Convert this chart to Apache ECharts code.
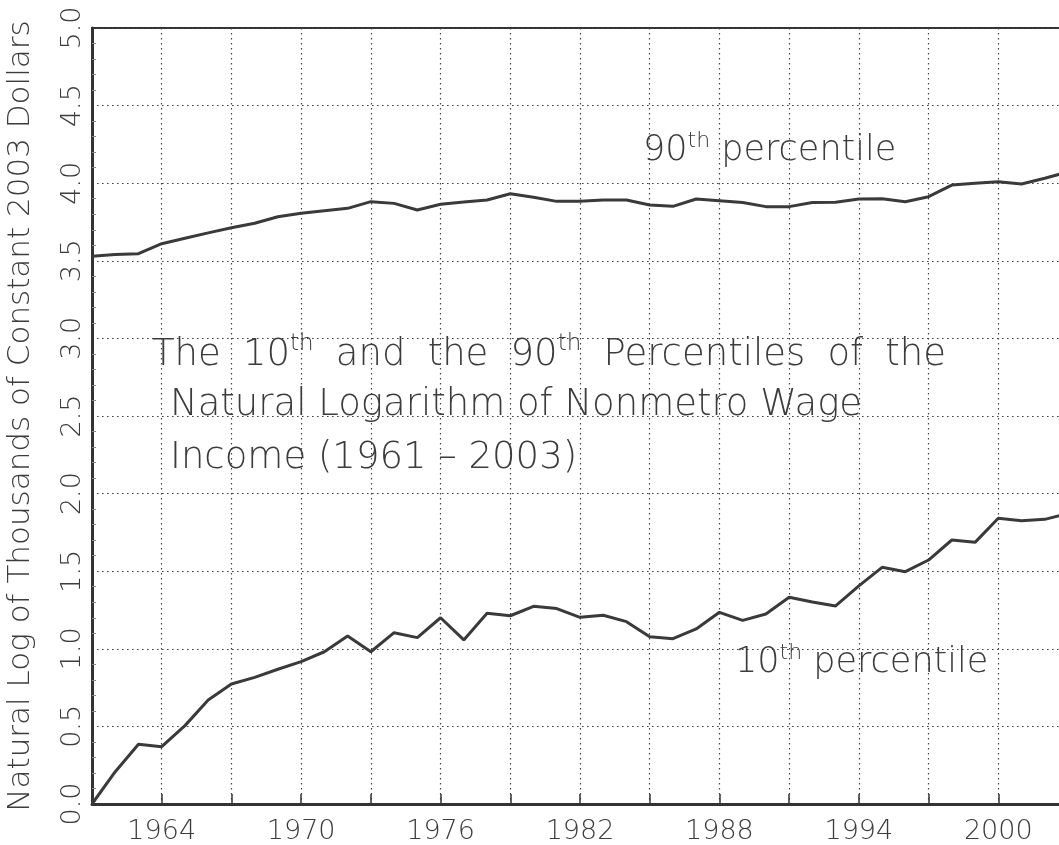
<!DOCTYPE html>
<html>
<head>
<meta charset="utf-8">
<script src="https://cdn.jsdelivr.net/npm/echarts@6/dist/echarts.min.js"></script>
<style>
html,body{margin:0;padding:0;background:#fff;}
#chart{width:1059px;height:845px;}
</style>
</head>
<body>
<div id="chart"></div>
<script>
// Years 1961..2003
const years = [];
for (let y = 1961; y <= 2003; y++) years.push(String(y));

const p90 = [3.53, 3.54, 3.546, 3.61, 3.645, 3.68, 3.713, 3.742, 3.784, 3.806,
  3.823, 3.838, 3.881, 3.870, 3.827, 3.864, 3.879, 3.892, 3.932, 3.909,
  3.883, 3.883, 3.892, 3.892, 3.860, 3.851, 3.898, 3.887, 3.875, 3.849,
  3.849, 3.875, 3.877, 3.898, 3.900, 3.881, 3.913, 3.988, 3.999, 4.010,
  3.995, 4.032, 4.073];

const p10 = [0.0, 0.208, 0.385, 0.369, 0.505, 0.670, 0.773, 0.816, 0.868, 0.917,
  0.981, 1.082, 0.981, 1.104, 1.072, 1.200, 1.057, 1.229, 1.213, 1.274,
  1.259, 1.203, 1.216, 1.175, 1.078, 1.065, 1.128, 1.235, 1.183, 1.224,
  1.332, 1.302, 1.276, 1.405, 1.525, 1.497, 1.572, 1.701, 1.686, 1.841,
  1.825, 1.834, 1.872];

const xTickLabels = ['1964', '1970', '1976', '1982', '1988', '1994', '2000'];
const yTickLabels = ['0.0', '0.5', '1.0', '1.5', '2.0', '2.5', '3.0', '3.5', '4.0', '4.5', '5.0'];

const FONT = 'DejaVu Sans';
const TXT = '#3c3c3c';
const SP = '\u2002\u200A';

const chart = echarts.init(document.getElementById('chart'), null, {renderer: 'canvas'});

const gridDot = {show: true, lineStyle: {color: '#444', width: 1.2, type: [1.6, 3.4]}};

function supRich(size, supSize, raise) {
  return {
    a: {fontFamily: FONT, fontWeight: 200, fontSize: size, fill: TXT},
    s: {fontFamily: FONT, fontWeight: 200, fontSize: supSize, fill: TXT, padding: [0, 0, raise, 0]}
  };
}

const option = {
  backgroundColor: '#ffffff',
  animation: false,
  grid: {left: 92, top: 28, width: 976, bottom: 41, outerBoundsMode: 'none', containLabel: false,
    show: true, borderColor: '#333', borderWidth: 2},
  xAxis: {
    type: 'category',
    data: years,
    boundaryGap: false,
    axisLine: {show: true, lineStyle: {color: '#333', width: 3}},
    axisTick: {show: true, inside: true, length: 10, lineStyle: {color: '#333', width: 1.5},
      interval: function (i) { return i % 3 === 0; }},
    axisLabel: {
      interval: function (i, v) { return xTickLabels.indexOf(v) >= 0; },
      formatter: function (v) { return xTickLabels.indexOf(v) >= 0 ? v : ''; },
      fontFamily: FONT, fontWeight: 200, fontSize: 27, color: TXT, margin: 14
    },
    splitLine: Object.assign({interval: function (i) { return i % 3 === 0 && i > 0; }}, gridDot)
  },
  yAxis: {
    type: 'value',
    min: 0, max: 5, interval: 0.5,
    name: 'Natural Log of Thousands of Constant 2003 Dollars',
    nameLocation: 'middle',
    nameRotate: 90,
    nameGap: 56,
    nameTextStyle: {fontFamily: FONT, fontWeight: 200, fontSize: 31, color: TXT},
    axisLine: {show: true, lineStyle: {color: '#333', width: 3}},
    axisTick: {show: false, inside: true},
    minorTick: {show: true, splitNumber: 5, length: 4, lineStyle: {color: '#888', width: 1}},
    axisLabel: {
      rotate: 90,
      formatter: function (v) { return yTickLabels[Math.round(v * 2)]; },
      fontFamily: FONT, fontWeight: 200, fontSize: 27, color: TXT, margin: 6
    },
    splitLine: gridDot
  },
  series: [
    {name: '90th percentile', type: 'line', data: p90, showSymbol: false, symbol: 'none',
      lineStyle: {color: '#3a3a3a', width: 3}},
    {name: '10th percentile', type: 'line', data: p10, showSymbol: false, symbol: 'none',
      lineStyle: {color: '#3a3a3a', width: 3}}
  ],
  graphic: [
    {type: 'text', left: 152, top: 333, z: 100,
      style: {text: '{a|The' + SP + '10}{s|th}{a|' + SP + 'and' + SP + 'the' + SP + '90}{s|th}{a|' + SP + 'Percentiles' + SP + 'of' + SP + 'the}',
        rich: supRich(37, 23, 22)}},
    {type: 'text', left: 170, top: 387, z: 100,
      style: {text: 'Natural Logarithm of Nonmetro Wage', fontFamily: FONT, fontWeight: 200, fontSize: 37, fill: TXT}},
    {type: 'text', left: 170, top: 440, z: 100,
      style: {text: 'Income (1961 \u2013 2003)', fontFamily: FONT, fontWeight: 200, fontSize: 37, fill: TXT}},
    {type: 'text', left: 643, top: 130, z: 100,
      style: {text: '{a|90}{s|th}{a| percentile}', rich: supRich(35, 22, 20)}},
    {type: 'text', left: 735, top: 642, z: 100,
      style: {text: '{a|10}{s|th}{a| percentile}', rich: supRich(35, 22, 20)}}
  ]
};
chart.setOption(option);
</script>
</body>
</html>
